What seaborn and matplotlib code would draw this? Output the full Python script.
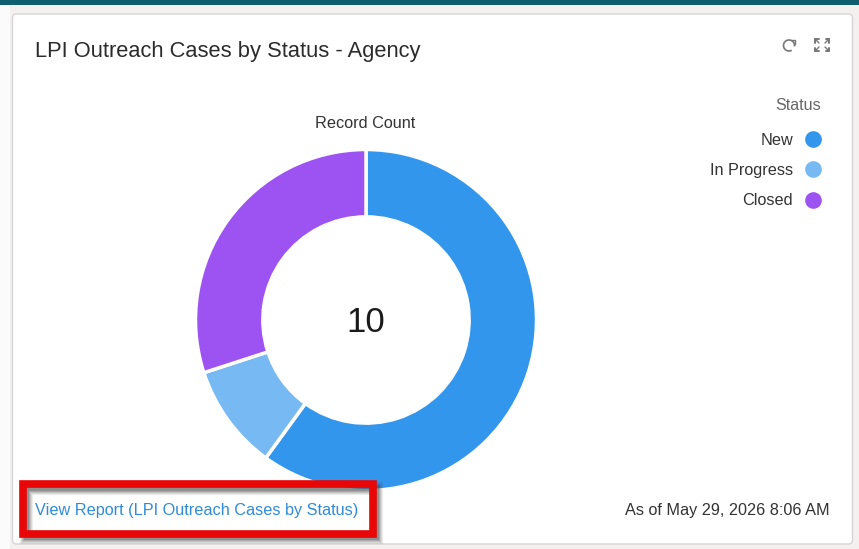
import numpy as np
import pandas as pd
import matplotlib
matplotlib.use('Agg')
import matplotlib.pyplot as plt
from matplotlib.lines import Line2D
from matplotlib.patches import Arc, FancyBboxPatch, Rectangle
import seaborn as sns

# data
statuses = ['New', 'In Progress', 'Closed']
counts = [6, 1, 3]
colors = ['#3296ED', '#77B9F2', '#9D53F2']
chart_title = 'LPI Outreach Cases by Status - Agency'
measure_name = 'Record Count'
legend_title = 'Status'
link_text = 'View Report (LPI Outreach Cases by Status)'
stamp_text = 'As of May 29, 2026 8:06 AM'

df = pd.DataFrame({'status': statuses, 'count': counts})

sns.set_theme(style='white')
plt.rcParams['font.family'] = ['Liberation Sans', 'DejaVu Sans']

W, H = 859, 549
fig = plt.figure(figsize=(W / 100, H / 100), dpi=100, facecolor='#FFFFFF')

# page layer, in pixel coordinates
bg = fig.add_axes([0, 0, 1, 1])
bg.set_xlim(0, W)
bg.set_ylim(H, 0)
bg.axis('off')
bg.add_patch(Rectangle((0, 0), W, H, fc='#F4F0EF', ec='none'))
bg.add_patch(Rectangle((0, 0), 10, H, fc='#FBFBFB', ec='none'))
bg.add_patch(Rectangle((0, 0), W, 5, fc='#0F5F6E', ec='none'))
bg.add_patch(FancyBboxPatch((12.5, 14), 840, 530, boxstyle='round,pad=0,rounding_size=4',
                            fc='white', ec='#D6D6D6', lw=1))

bg.text(35, 51.5, chart_title, fontsize=15.75, color='#2B2B2B', va='center', ha='left')
bg.text(365, 124, measure_name, fontsize=11.7, color='#333333', va='center', ha='center')
bg.text(830, 510.5, stamp_text, fontsize=11.7, color='#333333', va='center', ha='right')
bg.text(821, 105.5, legend_title, fontsize=11.6, color='#666666', va='center', ha='right')

# refresh and expand icons
bg.add_patch(Arc((789, 45.5), 11, 11, theta1=-300, theta2=10, color='#777777', lw=1.2))
bg.plot([791, 795, 795], [40, 40, 44], color='#777777', lw=1)
for sx, sy in [(-1, -1), (1, -1), (-1, 1), (1, 1)]:
    cx, cy = 822 + sx * 7, 45 + sy * 6
    bg.plot([cx, cx - sx * 3.5], [cy, cy], color='#777777', lw=1.4)
    bg.plot([cx, cx], [cy, cy - sy * 3.5], color='#777777', lw=1.4)
    bg.plot([cx, cx - sx * 4], [cy, cy - sy * 4], color='#777777', lw=1)

# donut
size = 341
ax = fig.add_axes([(366 - size / 2) / W, 1 - (320 + size / 2) / H, size / W, size / H])
ax.pie(df['count'], colors=sns.color_palette(colors), startangle=90, counterclock=False,
       radius=1, wedgeprops=dict(width=0.395, edgecolor='white', linewidth=2.5))
ax.set_xlim(-1, 1)
ax.set_ylim(-1, 1)
ax.text(0, -0.015, str(df['count'].sum()), fontsize=25, color='#1A1A1A', ha='center', va='center')

# legend
handles = [Line2D([], [], ls='none', marker='o', ms=12, mfc=c, mec='none', label=s)
           for c, s in zip(colors, statuses)]
leg = fig.legend(handles=handles, loc='upper right', frameon=False,
                 markerfirst=False, fontsize=11.7, labelspacing=0.93, handletextpad=0.22,
                 borderaxespad=0, borderpad=0, bbox_to_anchor=(829 / W, 1 - 133 / H))
for t in leg.get_texts():
    t.set_color('#333333')

# red callout over the link
top = fig.add_axes([0, 0, 1, 1], facecolor='none')
top.set_xlim(0, W)
top.set_ylim(H, 0)
top.axis('off')
for lw_pt, a in [(9.5, 0.09), (8, 0.12), (6.5, 0.15), (5, 0.2), (3.5, 0.25)]:
    top.add_patch(Rectangle((26, 487.5), 350, 49, fill=False, ec='#444444', lw=lw_pt, alpha=a))
top.add_patch(Rectangle((23, 484), 350, 49.5, fill=False, ec='#E80606', lw=5.5, joinstyle='miter'))
top.text(35, 510.5, link_text, fontsize=11.7, color='#2F8BD8', va='center', ha='left')

fig.savefig('out.png', dpi=100)
